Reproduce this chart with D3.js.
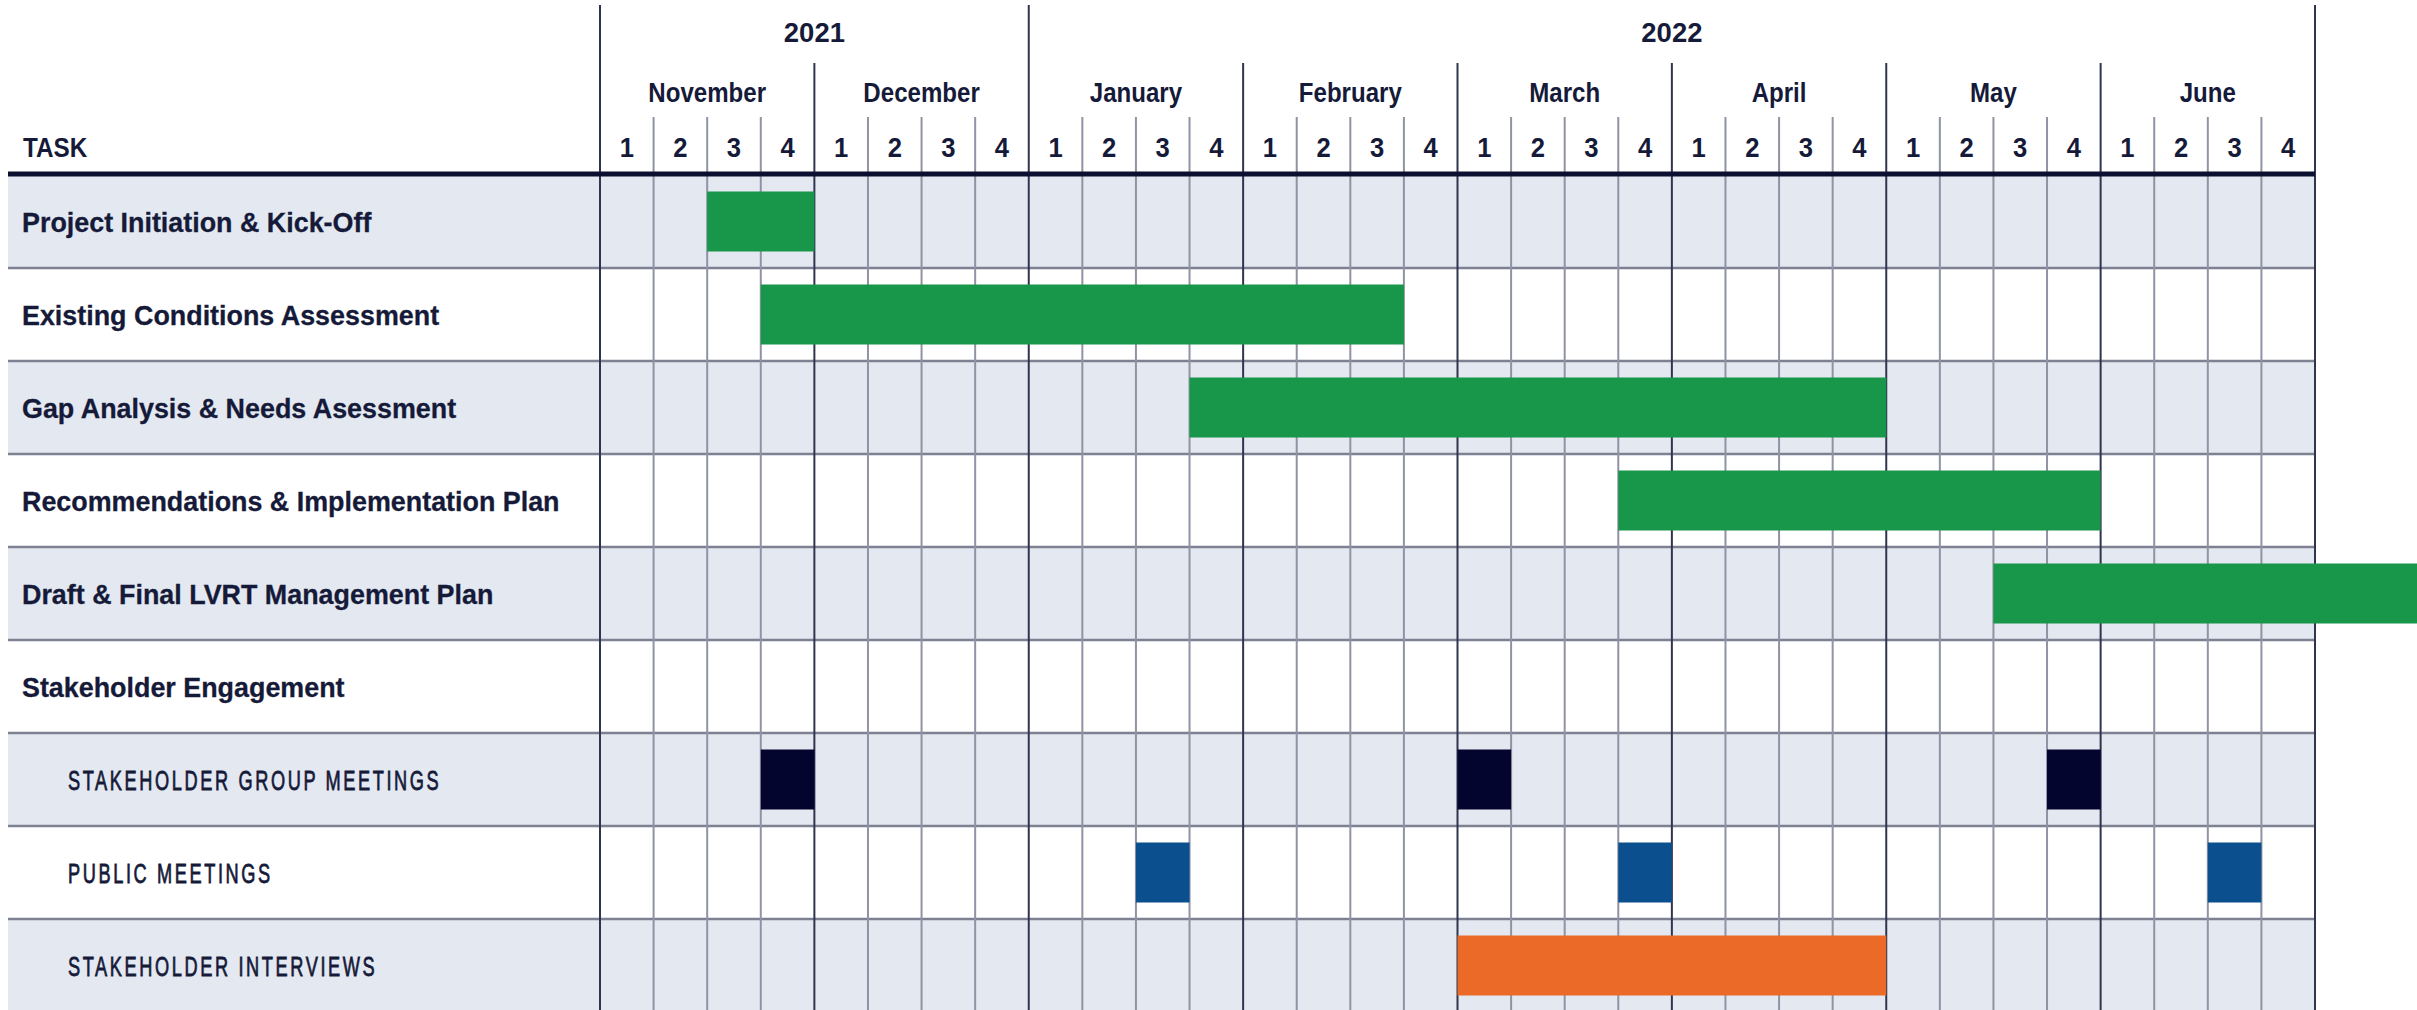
<!DOCTYPE html>
<html>
<head>
<meta charset="utf-8">
<script src="https://cdn.jsdelivr.net/npm/d3@7"></script>
<style>
  html, body { margin: 0; padding: 0; background: #ffffff; }
  svg { display: block; }
  text { font-family: "Liberation Sans", Arial, sans-serif; fill: #161a39; }
</style>
</head>
<body>
<svg id="chart" width="2417" height="1010"></svg>
<script>
// ---- Timeline header ----
const yearLabels = ["2021", "2022"];
const yearMonthCounts = [2, 6];
const monthLabels = ["November", "December", "January", "February", "March", "April", "May", "June"];
const weekLabels = ["1", "2", "3", "4"];

// ---- Task rows ----
const rowLabels = [
  "Project Initiation & Kick-Off",
  "Existing Conditions Assessment",
  "Gap Analysis & Needs Asessment",
  "Recommendations & Implementation Plan",
  "Draft & Final LVRT Management Plan",
  "Stakeholder Engagement",
  "STAKEHOLDER GROUP MEETINGS",
  "PUBLIC MEETINGS",
  "STAKEHOLDER INTERVIEWS"
];
const rowIsSubtask = [false, false, false, false, false, false, true, true, true];

// ---- Scheduled spans (week index from Nov week 1 = 0; end is exclusive) ----
const spanRow       = [0, 1, 2, 3, 4, 6, 6, 6, 7, 7, 7, 8];
const spanStartWeek = [2, 3, 11, 19, 26, 3, 16, 27, 10, 19, 30, 16];
const spanEndWeek   = [4, 15, 24, 28, 34, 4, 17, 28, 11, 20, 31, 24];
const spanKind      = ["phase", "phase", "phase", "phase", "phase",
                       "group", "group", "group",
                       "public", "public", "public",
                       "interview"];

const kindColor = {
  phase: "#18964a",
  group: "#03052f",
  public: "#0b4f8e",
  interview: "#ec6a27"
};

// ---- Layout ----
const W = 2417, H = 1010;
const gridLeft = 600, gridRight = 2315;
const tableLeft = 8;
const bodyTop = 175, rowStep = 93;
const totalWeeks = monthLabels.length * weekLabels.length;

const svg = d3.select("#chart");

const x = d3.scaleLinear().domain([0, totalWeeks]).range([gridLeft, gridRight]);
const y = d3.scaleBand()
  .domain(d3.range(rowLabels.length))
  .range([bodyTop, bodyTop + rowStep * rowLabels.length])
  .padding(0);

// text helper: horizontally condensed lettering
function label(g, str, tx, ty, opts) {
  const t = g.append("text")
    .attr("transform", `translate(${tx},${ty}) scale(${opts.sx || 1},1)`)
    .attr("text-anchor", opts.anchor || "start")
    .style("font-size", opts.size + "px")
    .style("font-weight", opts.weight || "normal")
    .text(str);
  if (opts.spacing) t.style("letter-spacing", opts.spacing + "px");
  if (opts.stroke) t.style("stroke", "#161a39").style("stroke-width", opts.stroke);
  return t;
}

// Row bands
svg.append("g").selectAll("rect")
  .data(d3.range(rowLabels.length))
  .join("rect")
  .attr("x", tableLeft)
  .attr("y", d => y(d))
  .attr("width", gridRight - tableLeft)
  .attr("height", y.bandwidth())
  .attr("fill", d => d % 2 === 0 ? "#e3e8f1" : "#ffffff");

// Row separators
svg.append("g").selectAll("line")
  .data(d3.range(1, rowLabels.length + 1))
  .join("line")
  .attr("x1", tableLeft).attr("x2", gridRight)
  .attr("y1", d => bodyTop + d * rowStep)
  .attr("y2", d => bodyTop + d * rowStep)
  .attr("stroke", "#7d8192")
  .attr("stroke-width", 2.5);

// Vertical grid: year, month and week boundaries
const yearStartWeeks = [0];
yearMonthCounts.forEach(c => yearStartWeeks.push(yearStartWeeks[yearStartWeeks.length - 1] + c * 4));
svg.append("g").selectAll("line")
  .data(d3.range(totalWeeks + 1))
  .join("line")
  .attr("x1", d => x(d)).attr("x2", d => x(d))
  .attr("y1", d => yearStartWeeks.includes(d) ? 5 : (d % 4 === 0 ? 63 : 117))
  .attr("y2", H)
  .attr("stroke", d => d % 4 === 0 ? "#30354f" : "#8f93a4")
  .attr("stroke-width", 2);

// Header rule
svg.append("line")
  .attr("x1", tableLeft).attr("x2", gridRight)
  .attr("y1", 174).attr("y2", 174)
  .attr("stroke", "#0c1030")
  .attr("stroke-width", 5);

// Header labels
const head = svg.append("g");
yearLabels.forEach((yl, i) => {
  const a = yearStartWeeks[i], b = yearStartWeeks[i + 1];
  label(head, yl, (x(a) + x(b)) / 2, 42, { size: 28, anchor: "middle", weight: "bold", sx: 0.98 });
});
monthLabels.forEach((m, i) => {
  label(head, m, (x(i * 4) + x(i * 4 + 4)) / 2, 102, { size: 28, anchor: "middle", weight: "bold", sx: 0.86 });
  weekLabels.forEach((w, j) => {
    const k = i * 4 + j;
    label(head, w, (x(k) + x(k + 1)) / 2, 157, { size: 27, anchor: "middle", weight: "bold", sx: 0.95 });
  });
});
label(head, "TASK", 23, 157, { size: 27, weight: "bold", sx: 0.9 });

// Row labels
const rowText = svg.append("g");
rowLabels.forEach((r, i) => {
  const cy = y(i) + y.bandwidth() / 2 + 10;
  if (rowIsSubtask[i]) {
    label(rowText, r, 68, cy, { size: 28, sx: 0.65, spacing: 4, stroke: 0.8 });
  } else {
    label(rowText, r, 22, cy, { size: 28, weight: "bold", sx: 0.96, stroke: 0.3 });
  }
});

// Schedule bars
const barH = 60;
svg.append("g").selectAll("rect")
  .data(d3.range(spanRow.length))
  .join("rect")
  .attr("x", d => x(spanStartWeek[d]))
  .attr("y", d => y(spanRow[d]) + (y.bandwidth() - barH) / 2)
  .attr("width", d => x(spanEndWeek[d]) - x(spanStartWeek[d]))
  .attr("height", barH)
  .attr("fill", d => kindColor[spanKind[d]]);
</script>
</body>
</html>
